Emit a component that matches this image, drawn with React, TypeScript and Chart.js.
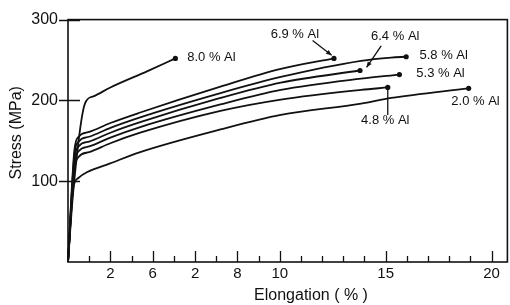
import React, { useEffect, useRef } from "react";
import { Chart, registerables } from "chart.js";

Chart.register(...registerables);

const FONT = '"Liberation Sans", Arial, Helvetica, sans-serif';
const INK = "#111111";

// ---- data (elongation %, stress MPa) ----
const seriesNames = ["8.0 % Al", "6.9 % Al", "5.8 % Al", "6.4 % Al", "5.3 % Al", "4.8 % Al", "2.0 % Al"];

const elong80 = [0, 0.25, 0.8, 1.2, 2.0, 3.73, 5.07];
const stress80 = [0, 88, 196, 205, 216, 236, 252];

const elong69 = [0, 0.3, 0.5, 1.0, 2, 3.41, 7.2, 10.05, 12.56];
const stress69 = [0, 138, 155, 161, 172, 185, 217, 239, 252];

const elong58 = [0, 0.3, 0.5, 1.0, 2, 3.41, 7.2, 10.05, 13.84, 15.26, 15.97];
const stress58 = [0, 132, 149, 155, 166, 179, 209, 229, 249, 253, 254];

const elong64 = [0, 0.3, 0.5, 1.0, 2, 3.41, 7.2, 10.05, 13.79];
const stress64 = [0, 126, 143, 149, 160, 173, 203, 222, 237];

const elong53 = [0, 0.3, 0.5, 1.0, 2, 3.41, 7.2, 10.05, 13.84, 15.65];
const stress53 = [0, 120, 137, 143, 154, 167, 195, 213, 227, 232];

const elong48 = [0, 0.3, 0.5, 1.0, 2, 3.41, 7.2, 10.05, 13.84, 15.1];
const stress48 = [0, 114, 130, 136, 147, 160, 187, 201, 213, 216];

const elong20 = [0, 0.25, 0.49, 0.89, 1.99, 3.41, 7.2, 10.05, 13.84, 15.26, 18.92];
const stress20 = [0, 92, 104, 111, 122, 136, 164, 182, 196, 203, 215];

const seriesX = [elong80, elong69, elong58, elong64, elong53, elong48, elong20];
const seriesY = [stress80, stress69, stress58, stress64, stress53, stress48, stress20];

// ---- axis ticks ----
const xTickValues = [2, 4, 6, 8, 10, 15, 20];
const xTickLabels = ["2", "6", "2", "8", "10", "15", "20"];
const xMinorTicks = [1, 3, 5, 7, 9, 11, 12, 13, 14, 16, 17, 18, 19];
const yTickValues = [100, 200, 300];

// ---- curve labels (left edge, vertical centre, in data units) ----
const labelX = [5.63, 9.57, 16.6, 14.31, 16.45, 13.84, 18.1];
const labelY = [253, 282, 255.5, 279, 233, 175, 199];

// ---- leader lines ----
const leaderFromX = [11.55, 14.79, 15.1];
const leaderFromY = [274, 267.6, 182];
const leaderToX = [12.45, 14.1, 15.1];
const leaderToY = [256, 241, 213];
const leaderArrow = [true, true, false];

const decorPlugin = {
  id: "decor",
  afterDraw(chart: any) {
    const { ctx, chartArea, scales } = chart;
    const xs = scales.x;
    const ys = scales.y;
    const { left, right, top, bottom } = chartArea;
    ctx.save();
    ctx.strokeStyle = INK;
    ctx.fillStyle = INK;
    ctx.lineCap = "butt";

    // frame
    ctx.lineWidth = 1.6;
    ctx.strokeRect(left, top, right - left, bottom - top);

    // x ticks, drawn inward
    ctx.lineWidth = 1.3;
    xMinorTicks.forEach((v) => {
      const px = Math.round(xs.getPixelForValue(v)) + 0.5;
      ctx.beginPath();
      ctx.moveTo(px, bottom);
      ctx.lineTo(px, bottom - 6);
      ctx.stroke();
    });
    xTickValues.forEach((v) => {
      const px = Math.round(xs.getPixelForValue(v)) + 0.5;
      ctx.beginPath();
      ctx.moveTo(px, bottom);
      ctx.lineTo(px, bottom - 11);
      ctx.stroke();
    });

    // y ticks crossing the axis
    ctx.lineWidth = 1.5;
    yTickValues.forEach((v) => {
      const py = Math.round(ys.getPixelForValue(v)) + 0.5;
      ctx.beginPath();
      ctx.moveTo(left - 9, py);
      ctx.lineTo(left + 12, py);
      ctx.stroke();
    });

    // curve labels
    ctx.font = `13px ${FONT}`;
    ctx.textAlign = "left";
    ctx.textBaseline = "middle";
    seriesNames.forEach((name, i) => {
      ctx.fillText(name, xs.getPixelForValue(labelX[i]), ys.getPixelForValue(labelY[i]));
    });

    // leader lines
    ctx.lineWidth = 1.3;
    leaderFromX.forEach((fx, i) => {
      const x1 = xs.getPixelForValue(fx);
      const y1 = ys.getPixelForValue(leaderFromY[i]);
      const x2 = xs.getPixelForValue(leaderToX[i]);
      const y2 = ys.getPixelForValue(leaderToY[i]);
      ctx.beginPath();
      ctx.moveTo(x1, y1);
      ctx.lineTo(x2, y2);
      ctx.stroke();
      if (leaderArrow[i]) {
        const a = Math.atan2(y2 - y1, x2 - x1);
        const L = 6;
        const w = 0.4;
        ctx.beginPath();
        ctx.moveTo(x2, y2);
        ctx.lineTo(x2 - L * Math.cos(a - w), y2 - L * Math.sin(a - w));
        ctx.lineTo(x2 - L * Math.cos(a + w), y2 - L * Math.sin(a + w));
        ctx.closePath();
        ctx.fill();
      }
    });

    // axis titles
    ctx.font = `16px ${FONT}`;
    ctx.textAlign = "center";
    ctx.textBaseline = "middle";
    ctx.fillText("Elongation ( % )", left + (right - left) * 0.553, bottom + 34);
    ctx.save();
    ctx.translate(17, top + (bottom - top) * 0.467);
    ctx.rotate(-Math.PI / 2);
    ctx.fillText("Stress (MPa)", 0, 0);
    ctx.restore();

    ctx.restore();
  },
};

export default function App() {
  const canvasRef = useRef<HTMLCanvasElement | null>(null);

  useEffect(() => {
    const canvas = canvasRef.current;
    if (!canvas) return;

    const datasets = seriesNames.map((name, i) => {
      const xsArr = seriesX[i];
      const ysArr = seriesY[i];
      return {
        label: name,
        data: xsArr.map((x, j) => ({ x, y: ysArr[j] })),
        borderColor: INK,
        backgroundColor: INK,
        borderWidth: 1.8,
        showLine: true,
        fill: false,
        cubicInterpolationMode: "monotone" as const,
        pointRadius: (c: any) => (c.dataIndex === xsArr.length - 1 ? 2.6 : 0),
        pointHoverRadius: 0,
        pointBorderWidth: 0,
        clip: false as const,
      };
    });

    const chart = new Chart(canvas, {
      type: "scatter",
      data: { datasets },
      options: {
        animation: false,
        responsive: false,
        maintainAspectRatio: false,
        layout: { padding: { top: 15, right: 2, left: 0, bottom: 0 } },
        plugins: {
          legend: { display: false },
          tooltip: { enabled: false },
          title: { display: false },
        },
        scales: {
          x: {
            type: "linear",
            min: 0,
            max: 20.75,
            afterFit: (s: any) => {
              s.height = 43;
            },
            grid: { display: false, drawTicks: false },
            border: { display: false },
            ticks: {
              stepSize: 1,
              includeBounds: false,
              autoSkip: false,
              maxRotation: 0,
              padding: 3,
              color: INK,
              font: { family: FONT, size: 15 },
              callback: (v: any) => {
                const idx = xTickValues.findIndex((t) => Math.abs(t - Number(v)) < 1e-6);
                return idx >= 0 ? xTickLabels[idx] : "";
              },
            },
          },
          y: {
            type: "linear",
            min: 0,
            max: 300,
            afterFit: (s: any) => {
              s.width = 68;
            },
            grid: { display: false, drawTicks: false },
            border: { display: false },
            ticks: {
              stepSize: 100,
              padding: 10,
              color: INK,
              font: { family: FONT, size: 16 },
              callback: (v: any) => (yTickValues.includes(Number(v)) ? String(v) : ""),
            },
          },
        },
      },
      plugins: [decorPlugin],
    });

    return () => chart.destroy();
  }, []);

  return (
    <div style={{ position: "fixed", left: 0, top: 0, width: 510, height: 305, background: "#fff" }}>
      <canvas ref={canvasRef} width={510} height={305} style={{ display: "block" }} />
    </div>
  );
}
